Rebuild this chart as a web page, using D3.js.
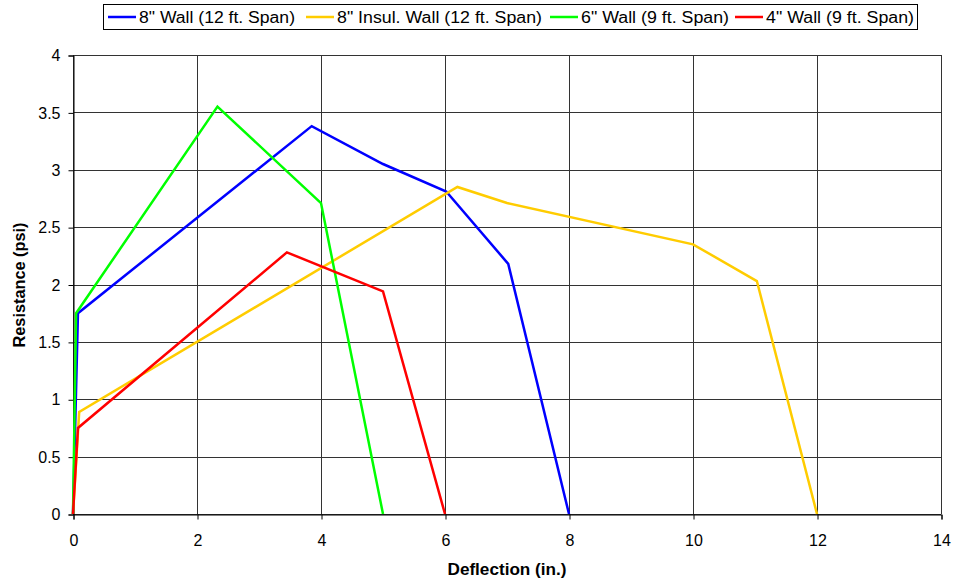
<!DOCTYPE html>
<html><head><meta charset="utf-8">
<script src="https://cdn.jsdelivr.net/npm/d3@7"></script>
<style>body{margin:0;background:#fff;} svg{display:block;font-family:"Liberation Sans",Arial,sans-serif;}</style>
</head><body>
<svg id="c" width="955" height="583"></svg>
<script>
const seriesNames = ['8" Wall (12 ft. Span)', '8" Insul. Wall (12 ft. Span)', '6" Wall (9 ft. Span)', '4" Wall (9 ft. Span)'];
const seriesColors = ["#0000ff", "#ffcc00", "#00ff00", "#ff0000"];
const wall8X = [0, 0.08, 3.85, 5.0, 6.02, 7.02, 8];
const wall8Y = [0, 1.75, 3.38, 3.05, 2.81, 2.18, 0];
const insul8X = [0, 0.1, 6.2, 7.0, 10.0, 11.03, 12];
const insul8Y = [0, 0.89, 2.85, 2.71, 2.35, 2.03, 0];
const wall6X = [0, 0.05, 2.33, 4.0, 5];
const wall6Y = [0, 1.75, 3.55, 2.71, 0];
const wall4X = [0, 0.08, 3.45, 5.0, 6];
const wall4Y = [0, 0.75, 2.28, 1.94, 0];
const xTicks = [0, 2, 4, 6, 8, 10, 12, 14];
const yTicks = [0, 0.5, 1, 1.5, 2, 2.5, 3, 3.5, 4];

const series = [[wall8X, wall8Y], [insul8X, insul8Y], [wall6X, wall6Y], [wall4X, wall4Y]];
const svg = d3.select("#c");
const L = 73, R = 941, T = 55, B = 514;
const x = d3.scaleLinear().domain([0, 14]).range([L, R]);
const y = d3.scaleLinear().domain([0, 4]).range([B, T]);

// grid
const g = svg.append("g");
g.selectAll(".hg").data(yTicks).enter().append("line")
  .attr("x1", L).attr("x2", R).attr("y1", d => Math.round(y(d)) + 0.5).attr("y2", d => Math.round(y(d)) + 0.5)
  .attr("stroke", "#333").attr("stroke-width", 1);
g.selectAll(".vg").data(xTicks).enter().append("line")
  .attr("y1", T).attr("y2", B).attr("x1", d => Math.round(x(d)) + 0.5).attr("x2", d => Math.round(x(d)) + 0.5)
  .attr("stroke", "#333").attr("stroke-width", 1);

// axes
const xa = svg.append("g").attr("transform", `translate(0.5,${Math.round(B) + 0.5})`)
  .call(d3.axisBottom(x).tickValues(xTicks).tickSize(5).tickPadding(15).tickFormat(d3.format("d")));
const ya = svg.append("g").attr("transform", `translate(${L + 0.5},0.5)`)
  .call(d3.axisLeft(y).tickValues(yTicks).tickSize(5).tickPadding(8).tickFormat(d => String(d)));
[xa, ya].forEach(a => {
  a.select(".domain").attr("stroke", "#000");
  a.selectAll(".tick line").attr("stroke", "#000");
  a.selectAll("text").attr("font-size", 16).attr("fill", "#000").attr("font-family", "Liberation Sans, Arial, sans-serif");
});

// lines
const line = d3.line().x(d => x(d[0])).y(d => y(d[1]));
series.forEach((s, i) => {
  const pts = s[0].map((v, k) => [v, s[1][k]]);
  svg.append("path").datum(pts).attr("d", line).attr("fill", "none")
    .attr("stroke", seriesColors[i]).attr("stroke-width", 2.5).attr("stroke-linejoin", "miter");
});

// axis titles
svg.append("text").attr("x", 507).attr("y", 575).attr("text-anchor", "middle")
  .attr("font-size", 16).attr("font-weight", "bold")
  .attr("textLength", 119).attr("lengthAdjust", "spacingAndGlyphs").text("Deflection (in.)");
svg.append("text").attr("transform", "translate(25,285) rotate(-90)").attr("text-anchor", "middle")
  .attr("font-size", 16).attr("font-weight", "bold")
  .attr("textLength", 125).attr("lengthAdjust", "spacingAndGlyphs").text("Resistance (psi)");

// legend
const lg = svg.append("g");
lg.append("rect").attr("x", 103.5).attr("y", 4.5).attr("width", 814).attr("height", 25)
  .attr("fill", "#fff").attr("stroke", "#000");
const starts = [108, 306, 550, 735];
const widths = [156, 205, 148, 148];
starts.forEach((sx, i) => {
  lg.append("line").attr("x1", sx).attr("x2", sx + 28).attr("y1", 17).attr("y2", 17)
    .attr("stroke", seriesColors[i]).attr("stroke-width", 2.5);
  lg.append("text").attr("x", sx + 31).attr("y", 23).attr("font-size", 16)
    .attr("textLength", widths[i]).attr("lengthAdjust", "spacingAndGlyphs").text(seriesNames[i]);
});
</script>
</body></html>
